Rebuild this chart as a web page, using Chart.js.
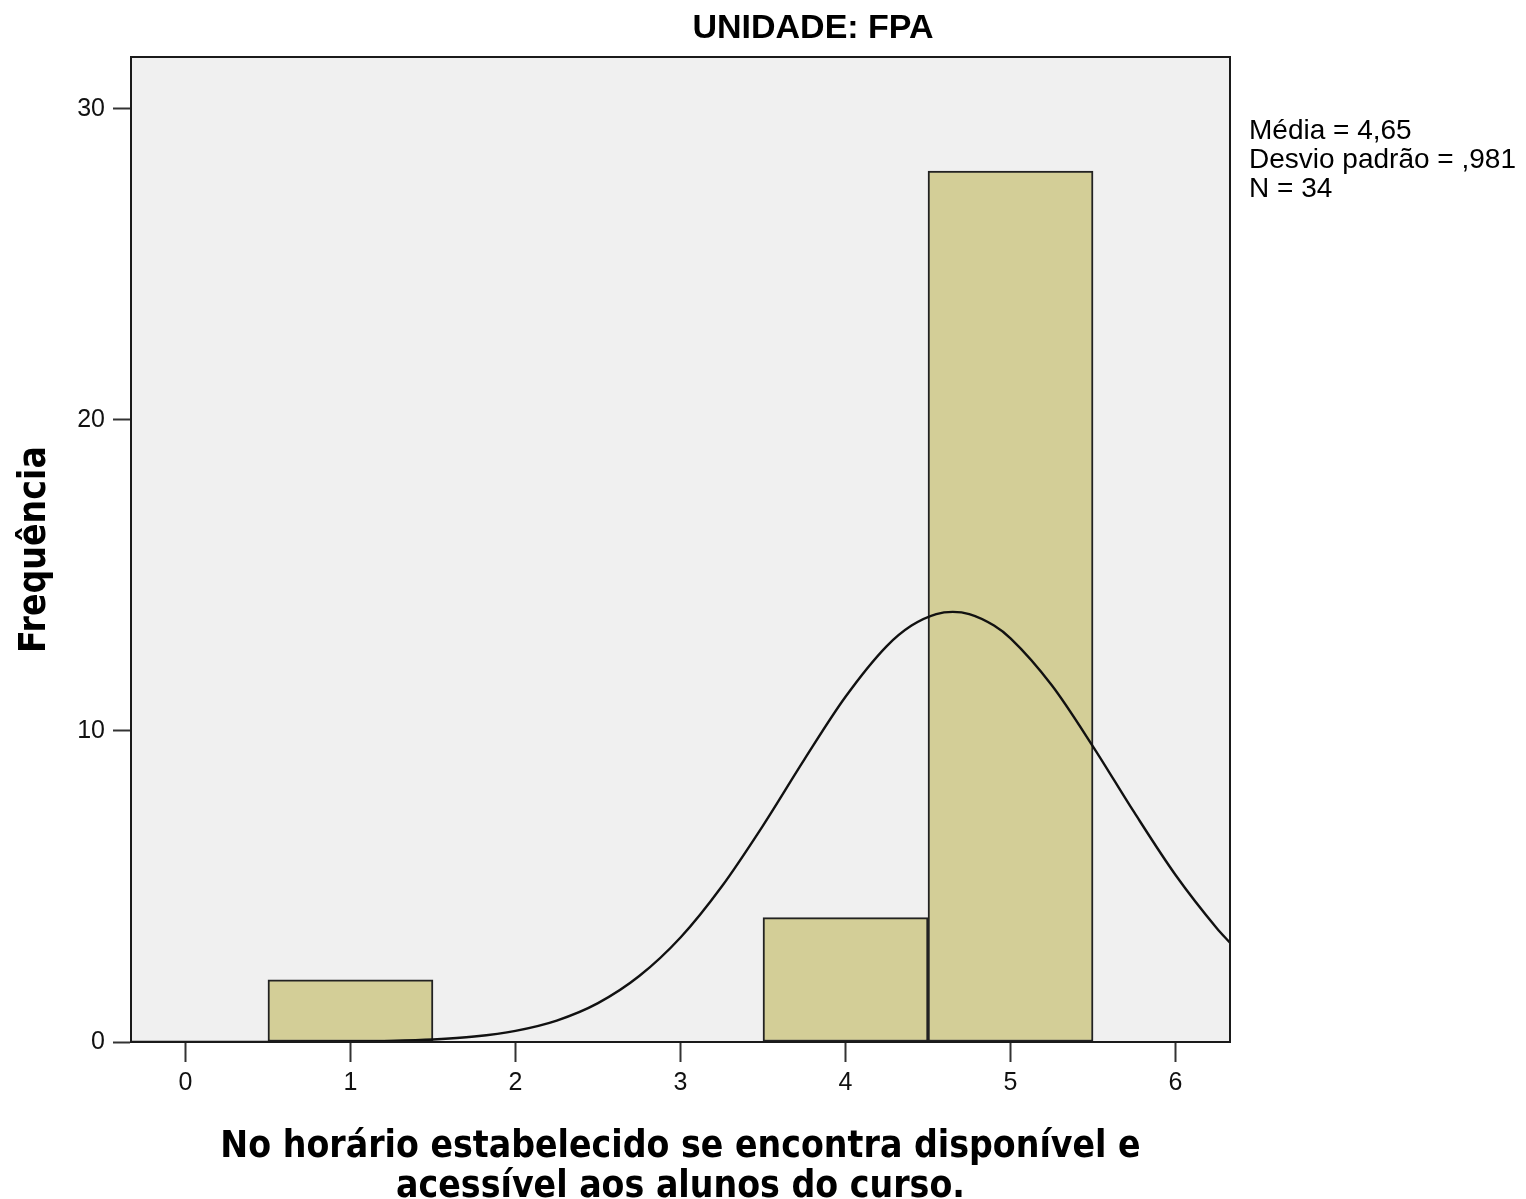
<!DOCTYPE html>
<html>
<head>
<meta charset="utf-8">
<script src="https://cdn.jsdelivr.net/npm/chart.js@4/dist/chart.umd.min.js"></script>
<style>
  html, body { margin: 0; padding: 0; background: #ffffff; }
  #wrap { width: 1526px; height: 1199px; }
</style>
</head>
<body>
<div id="wrap"><canvas id="histChart" width="1526" height="1199"></canvas></div>
<script>
// Histogram data
const binCenters = [1, 4, 5];
const binCounts = [2, 4, 28];

// Normal curve, values
const curveX = [-0.33, 0, 0.5, 1, 1.25, 1.5, 1.75, 2, 2.25, 2.5, 2.75, 3, 3.25, 3.5, 3.75, 4, 4.25, 4.4, 4.55, 4.65, 4.75, 4.9, 5, 5.25, 5.5, 5.75, 6, 6.25, 6.33];
const curveY = [0, 0.0002, 0.002, 0.014, 0.034, 0.08, 0.175, 0.36, 0.69, 1.25, 2.12, 3.36, 5.0, 6.96, 9.08, 11.1, 12.73, 13.39, 13.76, 13.83, 13.76, 13.39, 12.98, 11.47, 9.5, 7.38, 5.37, 3.66, 3.19];

const xTicks = [0, 1, 2, 3, 4, 5, 6];
const yTicks = [0, 10, 20, 30];

const chartTitle = 'UNIDADE: FPA';
const statsLines = ['Média = 4,65', 'Desvio padrão = ,981', 'N = 34'];
const xTitle = ['No horário estabelecido se encontra disponível e', 'acessível aos alunos do curso.'];
const yTitle = 'Frequência';

// Plot background, frame and text annotations
const decorPlugin = {
    id: 'decor',
    beforeDatasetsDraw(chart) {
        const {ctx, chartArea: a} = chart;
        ctx.save();
        ctx.fillStyle = '#f0f0f0';
        ctx.fillRect(a.left, a.top, a.right - a.left, a.bottom - a.top);
        ctx.restore();
    },
    afterDatasetsDraw(chart) {
        const {ctx, chartArea: a} = chart;
        ctx.save();
        ctx.strokeStyle = '#1a1a1a';
        ctx.lineWidth = 2;
        ctx.strokeRect(a.left, a.top, a.right - a.left, a.bottom - a.top);
        ctx.restore();
    },
    afterDraw(chart) {
        const {ctx} = chart;
        ctx.save();
        ctx.fillStyle = '#000';
        ctx.textAlign = 'center';
        ctx.textBaseline = 'middle';
        ctx.font = 'bold 34px "Liberation Sans", Arial, sans-serif';
        ctx.fillText(chartTitle, 813, 29);

        ctx.textAlign = 'left';
        ctx.font = '28px "Liberation Sans", Arial, sans-serif';
        statsLines.forEach((t, i) => ctx.fillText(t, 1249, 131 + i * 29));
        ctx.restore();
    }
};

const ctx = document.getElementById('histChart');

new Chart(ctx, {
    type: 'bar',
    data: {
        datasets: [
            {
                type: 'line',
                data: curveX.map((x, i) => ({x: x, y: curveY[i]})),
                borderColor: '#111',
                borderWidth: 2.4,
                pointRadius: 0,
                cubicInterpolationMode: 'monotone',
                fill: false,
                order: 0
            },
            {
                type: 'bar',
                data: binCenters.map((x, i) => ({x: x, y: binCounts[i]})),
                backgroundColor: '#d3ce97',
                borderColor: '#222',
                borderWidth: 2,
                borderSkipped: false,
                barPercentage: 1.0,
                categoryPercentage: 1.0,
                order: 1
            }
        ]
    },
    options: {
        responsive: false,
        animation: false,
        layout: {
            padding: {top: 57, right: 296, left: 0, bottom: 0}
        },
        plugins: {
            legend: {display: false},
            tooltip: {enabled: false},
            title: {display: false}
        },
        scales: {
            x: {
                type: 'linear',
                min: -0.33,
                max: 6.33,
                offset: false,
                afterFit(scale) { scale.height = 157; },
                afterBuildTicks(scale) { scale.ticks = xTicks.map(v => ({value: v})); },
                ticks: {
                    includeBounds: false,
                    stepSize: 1,
                    padding: 6,
                    color: '#111',
                    font: {family: '"Liberation Sans", Arial, sans-serif', size: 25}
                },
                grid: {
                    offset: false,
                    drawOnChartArea: false,
                    drawTicks: true,
                    tickLength: 20,
                    tickWidth: 2,
                    tickColor: '#333'
                },
                border: {display: true, color: '#1a1a1a', width: 2},
                title: {
                    display: true,
                    text: xTitle,
                    color: '#000',
                    padding: {top: 0, bottom: -8},
                    font: {family: '"DejaVu Sans Condensed", "DejaVu Sans", sans-serif', size: 37, weight: 'bold', lineHeight: 1.07}
                }
            },
            y: {
                type: 'linear',
                min: 0,
                max: 31.67,
                afterFit(scale) { scale.width = 131; },
                afterBuildTicks(scale) { scale.ticks = yTicks.map(v => ({value: v})); },
                ticks: {
                    includeBounds: false,
                    stepSize: 10,
                    padding: 8,
                    color: '#111',
                    font: {family: '"Liberation Sans", Arial, sans-serif', size: 25}
                },
                grid: {
                    drawOnChartArea: false,
                    drawTicks: true,
                    tickLength: 18,
                    tickWidth: 2,
                    tickColor: '#333'
                },
                border: {display: true, color: '#1a1a1a', width: 2},
                title: {
                    display: true,
                    text: yTitle,
                    color: '#000',
                    padding: {top: 13, bottom: 0},
                    font: {family: '"DejaVu Sans Condensed", "DejaVu Sans", sans-serif', size: 37, weight: 'bold', lineHeight: 1.2}
                }
            }
        }
    },
    plugins: [decorPlugin]
});
</script>
</body>
</html>
